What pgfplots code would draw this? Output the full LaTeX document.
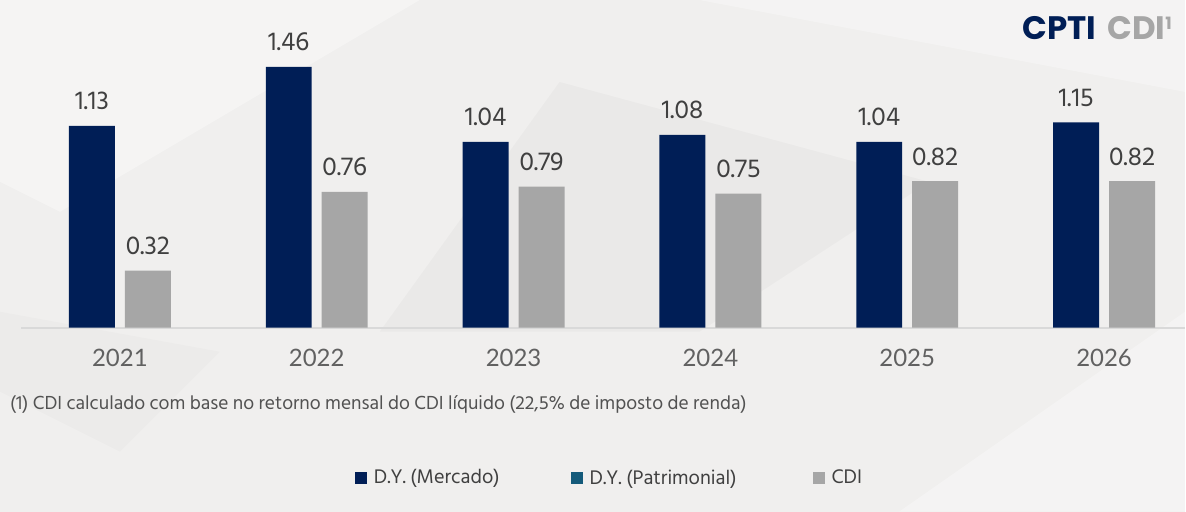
\documentclass[border=0pt]{standalone}
\usepackage{pgfplots}
\pgfplotsset{compat=1.18}
\usepackage{fontspec}
\setmainfont{Lato}
\newfontfamily\hind{Hind Siliguri}
\newfontfamily\logo{Poppins}
\definecolor{navy}{HTML}{001E56}
\definecolor{cdigray}{HTML}{A6A6A6}
\definecolor{teal1}{HTML}{145A7A}
\definecolor{bg}{HTML}{F0EFEE}
\definecolor{txt}{HTML}{404040}
\begin{document}
\begin{tikzpicture}[x=1pt,y=1pt]
\fill[bg] (0,0) rectangle (1186,512);
\fill[white,opacity=0.35] (0,512) -- (420,512) -- (60,300) -- (0,330) -- cycle;
\fill[white,opacity=0.3] (700,512) -- (1186,512) -- (1186,420) -- cycle;
\fill[black,opacity=0.025] (380,180) -- (560,430) -- (930,330) -- (700,180) -- cycle;
\fill[black,opacity=0.015] (0,200) -- (220,160) -- (120,60) -- (0,120) -- cycle;
\fill[white,opacity=0.3] (900,0) -- (1186,0) -- (1186,200) -- cycle;
\begin{axis}[
  at={(21.5pt,184pt)}, anchor=south west,
  scale only axis, width=1164.5pt, height=286.08pt,
  xmin=-0.5, xmax=5.4112, ymin=0, ymax=1.6,
  clip=false,
  axis x line*=bottom, axis y line=none,
  x axis line style={-, draw=black!15, line width=2pt},
  xtick={0,1,2,3,4,5},
  xticklabels={2021,2022,2023,2024,2025,2026},
  major tick length=0pt,
  xticklabel style={font=\fontsize{24}{28}\selectfont, text=black!62, anchor=base, yshift=-39pt},
  ybar, bar width=46pt,
  nodes near coords,
  nodes near coords style={font=\hind\fontsize{26.5}{30}\selectfont, text=txt, anchor=base, yshift=16pt, /pgf/number format/fixed, /pgf/number format/fixed zerofill, /pgf/number format/precision=2, /pgf/number format/assume math mode=true},
  legend image code/.code={\fill[#1] (0pt,-6pt) rectangle (12pt,6pt);},
  legend columns=3,
  legend style={at={(0.2864,-0.5243)}, anchor=west, draw=none, fill=none,
    font=\hind\fontsize{20.2}{24}\selectfont, text=txt, inner sep=0pt,
    /tikz/every odd column/.append style={column sep=5pt},
    /tikz/every even column/.append style={column sep=0pt}},
]
\addplot[fill=navy, draw=none, bar shift=-28pt] coordinates {(0,1.13) (1,1.46) (2,1.04) (3,1.08) (4,1.04) (5,1.15)};
\addlegendentry{\makebox[195pt][l]{D.Y. (Mercado)}}
\addlegendimage{fill=teal1, draw=none}
\addlegendentry{\makebox[221pt][l]{D.Y. (Patrimonial)}}
\addplot[fill=cdigray, draw=none, bar shift=28pt] coordinates {(0,0.32) (1,0.76) (2,0.79) (3,0.75) (4,0.82) (5,0.82)};
\addlegendentry{CDI}
\end{axis}
\node[anchor=west, font=\hind\fontsize{19.4}{22}\selectfont, text=black!68, inner sep=0pt] at (10,107) {(1) CDI calculado com base no retorno mensal do CDI líquido (22,5\% de imposto de renda)};
\node[anchor=base east, inner sep=0pt, font=\logo\bfseries\fontsize{32.5}{34}\selectfont] at (1173,472) {\textcolor{navy}{CPTI}\hspace{11pt}\textcolor{cdigray}{CDI\raisebox{10pt}{\fontsize{17}{18}\selectfont 1}}};
\end{tikzpicture}
\end{document}
